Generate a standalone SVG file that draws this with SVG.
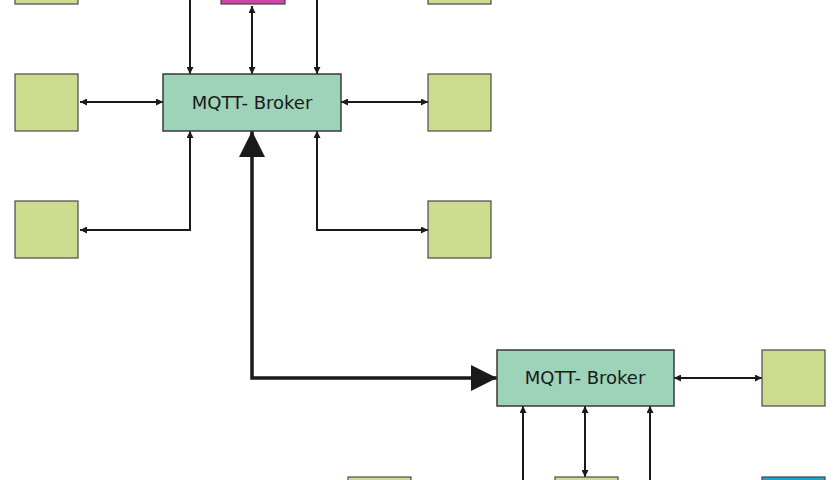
<svg xmlns="http://www.w3.org/2000/svg" width="840" height="480" viewBox="0 0 840 480">
<style>
.b{fill:#9dd3b9;stroke:#3a3a3a;stroke-width:1.5}
.c{fill:#cbdc8e;stroke:#4a4a4a;stroke-width:1.2}
.l{fill:none;stroke:#1a1a1a;stroke-width:2}
.t{font-family:"DejaVu Sans",sans-serif;font-size:18px;fill:#1a1a1a;text-anchor:middle}
</style>
<defs>
<marker id="a" viewBox="0 0 10 10" refX="10" refY="5" markerWidth="7" markerHeight="7" orient="auto-start-reverse" markerUnits="userSpaceOnUse"><path d="M0,0L10,5L0,10z" fill="#1a1a1a"/></marker>
<marker id="A" viewBox="0 0 10 10" refX="10" refY="5" markerWidth="26" markerHeight="26" orient="auto-start-reverse" markerUnits="userSpaceOnUse"><path d="M0,0L10,5L0,10z" fill="#1a1a1a"/></marker>
</defs>
<g id="connectors">
<path class="l" d="M190,0V74" marker-end="url(#a)" style="stroke-width:2;" />
<path class="l" d="M252,6V74" marker-start="url(#a)" marker-end="url(#a)"/>
<path class="l" d="M317,0V74" marker-end="url(#a)"/>
<path class="l" d="M80,102H163" marker-start="url(#a)" marker-end="url(#a)"/>
<path class="l" d="M341,102H428" marker-start="url(#a)" marker-end="url(#a)"/>
<path class="l" d="M190,131V230H80" marker-start="url(#a)" marker-end="url(#a)"/>
<path class="l" d="M317,131V230H428" marker-start="url(#a)" marker-end="url(#a)"/>
<path class="l" d="M252,131V378H497" style="stroke-width:3.5" marker-start="url(#A)" marker-end="url(#A)"/>
<path class="l" d="M674,378H762" marker-start="url(#a)" marker-end="url(#a)"/>
<path class="l" d="M523,480V406" marker-end="url(#a)"/>
<path class="l" d="M585,406V477" marker-start="url(#a)" marker-end="url(#a)"/>
<path class="l" d="M650,480V406" marker-end="url(#a)"/>
</g>
<g id="broker1"><rect class="b" x="163" y="74" width="178" height="57"/><text class="t" x="252" y="109">MQTT- Broker</text></g>
<g id="broker2"><rect class="b" x="497" y="350" width="177" height="56"/><text class="t" x="585" y="384">MQTT- Broker</text></g>
<g id="n1"><rect class="c" x="15" y="-20" width="63" height="24"/></g>
<g id="n2"><rect x="221" y="-20" width="64" height="24" fill="#cc45a9" stroke="#444" stroke-width="1.2"/></g>
<g id="n3"><rect class="c" x="428" y="-20" width="63" height="24"/></g>
<g id="n4"><rect class="c" x="15" y="74" width="63" height="57"/></g>
<g id="n5"><rect class="c" x="428" y="74" width="63" height="57"/></g>
<g id="n6"><rect class="c" x="15" y="201" width="63" height="57"/></g>
<g id="n7"><rect class="c" x="428" y="201" width="63" height="57"/></g>
<g id="n8"><rect class="c" x="762" y="350" width="63" height="56"/></g>
<g id="n9"><rect class="c" x="348" y="477" width="63" height="20"/></g>
<g id="n10"><rect class="c" x="555" y="477" width="63" height="20"/></g>
<g id="n11"><rect x="762" y="477" width="63" height="20" fill="#1ea2d4" stroke="#444" stroke-width="1.2"/></g>
</svg>
